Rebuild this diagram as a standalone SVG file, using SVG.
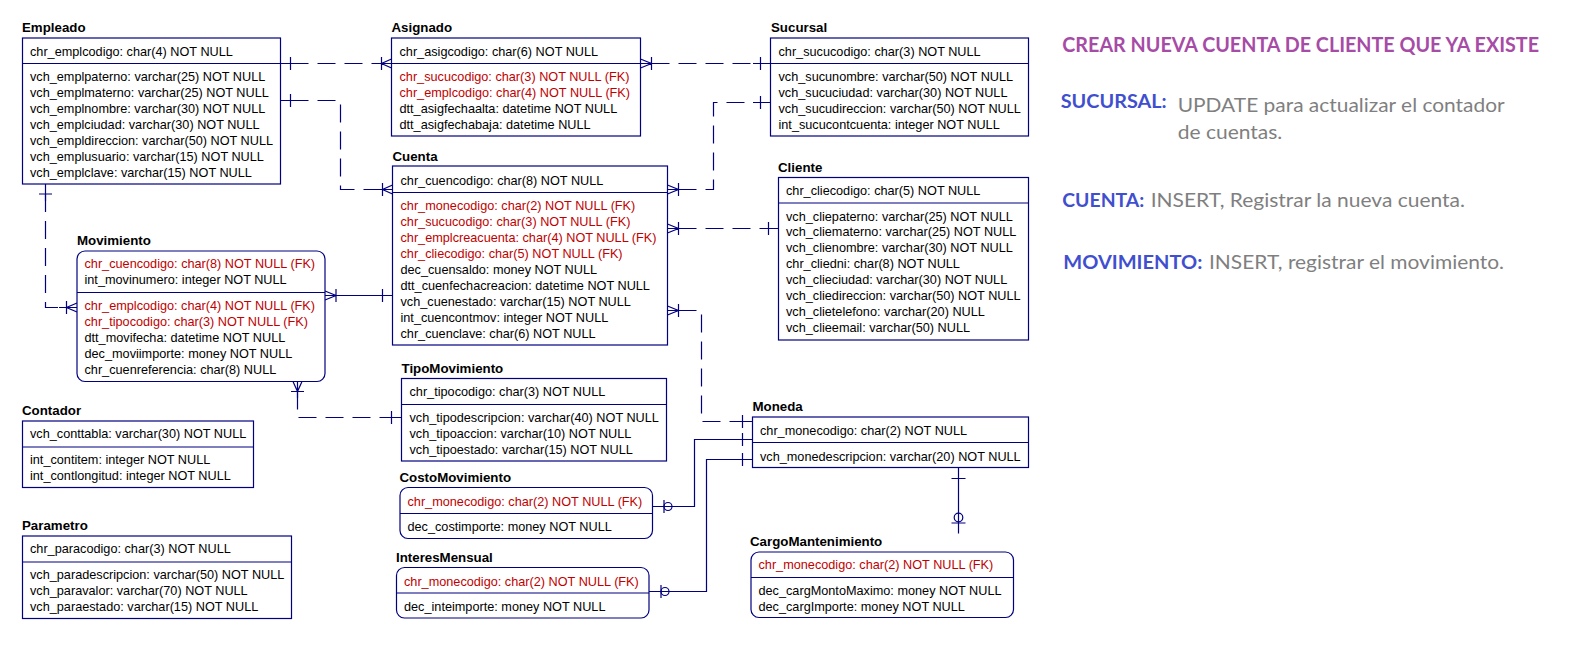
<svg xmlns="http://www.w3.org/2000/svg" width="1587" height="653" viewBox="0 0 1587 653">
<style>
.t{font-family:"Liberation Sans",Arial,sans-serif;font-size:12.7px;fill:#000}
.fk{fill:#c00000}
.ttl{font-family:"Liberation Sans",Arial,sans-serif;font-size:13.3px;font-weight:bold;fill:#000}
.box{fill:#fff;stroke:#000080;stroke-width:1.2}
.ln{fill:none;stroke:#000080;stroke-width:1.2}
.cn{fill:none;stroke:#000080;stroke-width:1.2}
.d{stroke-dasharray:18 9}
.note{font-family:Lato,"Open Sans",sans-serif}
.nh{font-weight:bold;fill:#a64ca6;font-size:21px}
.nb{font-weight:bold;fill:#3f4fcf;font-size:18px}
.ng{fill:#7f7f7f;font-size:19px}
</style>
<rect width="1587" height="653" fill="#fff"/>

<g id="connectors">
<!-- Empleado - Asignado -->
<path class="cn d" d="M290.5,63.5 H381.5"/>
<path class="cn" d="M280.5,63.5 H298 M374,63.5 H391.5 M290.5,57 V70 M381.5,57 V70 M391.5,59 L381.5,63.5 L391.5,68"/>
<!-- Empleado - Cuenta -->
<path class="cn d" d="M290.5,100.5 H340.5 V189.5 H382.5"/>
<path class="cn" d="M280.5,100.5 H298 M375,189.5 H392.5 M290.5,94 V107 M382.5,183 V196 M392.5,185 L382.5,189.5 L392.5,194"/>
<!-- Sucursal - Asignado -->
<path class="cn d" d="M651.5,63.5 H760.5"/>
<path class="cn" d="M640.5,63.5 H659 M753,63.5 H770.5 M651.5,57 V70 M640.5,59 L651.5,63.5 L640.5,68 M760.5,57 V70"/>
<!-- Sucursal - Cuenta -->
<path class="cn d" d="M678.5,189.5 H713.5 V102.5 H760.5"/>
<path class="cn" d="M667.5,189.5 H686 M753,102.5 H770.5 M678.5,183 V196 M667.5,185 L678.5,189.5 L667.5,194 M760.5,96 V109"/>
<!-- Cliente - Cuenta -->
<path class="cn d" d="M678.5,228.5 H768.5"/>
<path class="cn" d="M667.5,228.5 H686 M761,228.5 H778.5 M678.5,222 V235 M667.5,224 L678.5,228.5 L667.5,233 M768.5,222 V235"/>
<!-- Moneda - Cuenta -->
<path class="cn d" d="M678.5,310.5 H701.5 V421.5 H742.5"/>
<path class="cn" d="M667.5,310.5 H686 M735,421.5 H752.5 M678.5,304 V317 M667.5,306 L678.5,310.5 L667.5,315 M742.5,415 V428"/>
<!-- Cuenta - Movimiento -->
<path class="cn" d="M325,295.5 H392.5 M336,289 V302 M325,291 L336,295.5 L325,300 M382.5,289 V302"/>
<!-- Empleado - Movimiento -->
<path class="cn d" d="M45.5,194 V307.5 H66.5"/>
<path class="cn" d="M45.5,184 V201 M59,307.5 H77 M39,194 H52 M66.5,301 V314 M77,303 L66.5,307.5 L77,312"/>
<!-- TipoMovimiento - Movimiento -->
<path class="cn d" d="M297.5,391.5 V417.5 H391.5"/>
<path class="cn" d="M297.5,381.5 V398 M384,417.5 H401.5 M291,391.5 H304 M293,381.5 L297.5,391.5 L302,381.5 M391.5,411 V424"/>
<!-- Moneda - CostoMovimiento -->
<path class="cn" d="M652.5,506.5 H694.5 V439.5 H752.5 M664,500 V513 M742.5,433 V446"/>
<circle class="cn" cx="668" cy="506.5" r="4"/>
<!-- Moneda - InteresMensual -->
<path class="cn" d="M649,591.5 H706.5 V459.5 H752.5 M661,585 V598 M742.5,453 V466"/>
<circle class="cn" cx="665" cy="591.5" r="4"/>
<!-- Moneda - CargoMantenimiento -->
<path class="cn" d="M958.5,467.5 V533.5 M951.5,478.5 H965.5 M951.5,523 H965.5"/>
<circle class="cn" cx="958.5" cy="517.5" r="4.3"/>
</g>

<g id="Empleado">
<text class="ttl" x="22" y="31.5">Empleado</text>
<rect class="box" x="22.5" y="38" width="258" height="146"/>
<path class="ln" d="M22.5,63.5 H280.5"/>
<text class="t" x="30" y="55.5">chr_emplcodigo: char(4) NOT NULL</text>
<text class="t" x="30" y="81.2">vch_emplpaterno: varchar(25) NOT NULL</text>
<text class="t" x="30" y="97.1">vch_emplmaterno: varchar(25) NOT NULL</text>
<text class="t" x="30" y="113">vch_emplnombre: varchar(30) NOT NULL</text>
<text class="t" x="30" y="129">vch_emplciudad: varchar(30) NOT NULL</text>
<text class="t" x="30" y="144.9">vch_empldireccion: varchar(50) NOT NULL</text>
<text class="t" x="30" y="160.8">vch_emplusuario: varchar(15) NOT NULL</text>
<text class="t" x="30" y="176.8">vch_emplclave: varchar(15) NOT NULL</text>
</g>

<g id="Asignado">
<text class="ttl" x="391.5" y="31.5">Asignado</text>
<rect class="box" x="391.5" y="38" width="249" height="98"/>
<path class="ln" d="M391.5,63.5 H640.5"/>
<text class="t" x="399.5" y="55.5">chr_asigcodigo: char(6) NOT NULL</text>
<text class="t fk" x="399.5" y="81.2">chr_sucucodigo: char(3) NOT NULL (FK)</text>
<text class="t fk" x="399.5" y="97.1">chr_emplcodigo: char(4) NOT NULL (FK)</text>
<text class="t" x="399.5" y="113">dtt_asigfechaalta: datetime NOT NULL</text>
<text class="t" x="399.5" y="129">dtt_asigfechabaja: datetime NULL</text>
</g>

<g id="Sucursal">
<text class="ttl" x="771" y="31.5">Sucursal</text>
<rect class="box" x="770.5" y="38" width="258" height="98"/>
<path class="ln" d="M770.5,63.5 H1028.5"/>
<text class="t" x="778.5" y="55.5">chr_sucucodigo: char(3) NOT NULL</text>
<text class="t" x="778.5" y="81.2">vch_sucunombre: varchar(50) NOT NULL</text>
<text class="t" x="778.5" y="97.1">vch_sucuciudad: varchar(30) NOT NULL</text>
<text class="t" x="778.5" y="113">vch_sucudireccion: varchar(50) NOT NULL</text>
<text class="t" x="778.5" y="129">int_sucucontcuenta: integer NOT NULL</text>
</g>

<g id="Cuenta">
<text class="ttl" x="392.5" y="161">Cuenta</text>
<rect class="box" x="392.5" y="166" width="275" height="179"/>
<path class="ln" d="M392.5,192.5 H667.5"/>
<text class="t" x="400.5" y="184.5">chr_cuencodigo: char(8) NOT NULL</text>
<text class="t fk" x="400.5" y="210.2">chr_monecodigo: char(2) NOT NULL (FK)</text>
<text class="t fk" x="400.5" y="226.1">chr_sucucodigo: char(3) NOT NULL (FK)</text>
<text class="t fk" x="400.5" y="242">chr_emplcreacuenta: char(4) NOT NULL (FK)</text>
<text class="t fk" x="400.5" y="258">chr_cliecodigo: char(5) NOT NULL (FK)</text>
<text class="t" x="400.5" y="273.9">dec_cuensaldo: money NOT NULL</text>
<text class="t" x="400.5" y="289.8">dtt_cuenfechacreacion: datetime NOT NULL</text>
<text class="t" x="400.5" y="305.8">vch_cuenestado: varchar(15) NOT NULL</text>
<text class="t" x="400.5" y="321.7">int_cuencontmov: integer NOT NULL</text>
<text class="t" x="400.5" y="337.6">chr_cuenclave: char(6) NOT NULL</text>
</g>

<g id="Cliente">
<text class="ttl" x="778" y="172">Cliente</text>
<rect class="box" x="778.5" y="177.5" width="250" height="162.5"/>
<path class="ln" d="M778.5,203 H1028.5"/>
<text class="t" x="786" y="195.2">chr_cliecodigo: char(5) NOT NULL</text>
<text class="t" x="786" y="220.5">vch_cliepaterno: varchar(25) NOT NULL</text>
<text class="t" x="786" y="236.4">vch_cliematerno: varchar(25) NOT NULL</text>
<text class="t" x="786" y="252.4">vch_clienombre: varchar(30) NOT NULL</text>
<text class="t" x="786" y="268.3">chr_cliedni: char(8) NOT NULL</text>
<text class="t" x="786" y="284.2">vch_clieciudad: varchar(30) NOT NULL</text>
<text class="t" x="786" y="300.2">vch_cliedireccion: varchar(50) NOT NULL</text>
<text class="t" x="786" y="316.1">vch_clietelefono: varchar(20) NULL</text>
<text class="t" x="786" y="332">vch_clieemail: varchar(50) NULL</text>
</g>

<g id="Movimiento">
<text class="ttl" x="77" y="245.3">Movimiento</text>
<rect class="box" x="77" y="251" width="248" height="130.5" rx="8"/>
<path class="ln" d="M77,292.5 H325"/>
<text class="t fk" x="84.5" y="267.8">chr_cuencodigo: char(8) NOT NULL (FK)</text>
<text class="t" x="84.5" y="283.8">int_movinumero: integer NOT NULL</text>
<text class="t fk" x="84.5" y="310.2">chr_emplcodigo: char(4) NOT NULL (FK)</text>
<text class="t fk" x="84.5" y="326.1">chr_tipocodigo: char(3) NOT NULL (FK)</text>
<text class="t" x="84.5" y="341.8">dtt_movifecha: datetime NOT NULL</text>
<text class="t" x="84.5" y="357.7">dec_moviimporte: money NOT NULL</text>
<text class="t" x="84.5" y="373.6">chr_cuenreferencia: char(8) NULL</text>
</g>

<g id="Contador">
<text class="ttl" x="22" y="415">Contador</text>
<rect class="box" x="22.5" y="421" width="231" height="66.5"/>
<path class="ln" d="M22.5,447 H253.5"/>
<text class="t" x="30" y="437.8">vch_conttabla: varchar(30) NOT NULL</text>
<text class="t" x="30" y="463.8">int_contitem: integer NOT NULL</text>
<text class="t" x="30" y="480">int_contlongitud: integer NOT NULL</text>
</g>

<g id="Parametro">
<text class="ttl" x="22" y="530">Parametro</text>
<rect class="box" x="22.5" y="536" width="269" height="82.5"/>
<path class="ln" d="M22.5,562 H291.5"/>
<text class="t" x="30" y="552.8">chr_paracodigo: char(3) NOT NULL</text>
<text class="t" x="30" y="578.5">vch_paradescripcion: varchar(50) NOT NULL</text>
<text class="t" x="30" y="594.5">vch_paravalor: varchar(70) NOT NULL</text>
<text class="t" x="30" y="610.8">vch_paraestado: varchar(15) NOT NULL</text>
</g>

<g id="TipoMovimiento">
<text class="ttl" x="401.5" y="373">TipoMovimiento</text>
<rect class="box" x="401.5" y="378.5" width="265" height="82.5"/>
<path class="ln" d="M401.5,404.5 H666.5"/>
<text class="t" x="409.5" y="396.2">chr_tipocodigo: char(3) NOT NULL</text>
<text class="t" x="409.5" y="421.8">vch_tipodescripcion: varchar(40) NOT NULL</text>
<text class="t" x="409.5" y="437.8">vch_tipoaccion: varchar(10) NOT NULL</text>
<text class="t" x="409.5" y="453.8">vch_tipoestado: varchar(15) NOT NULL</text>
</g>

<g id="CostoMovimiento">
<text class="ttl" x="399.5" y="481.5">CostoMovimiento</text>
<rect class="box" x="400" y="487.5" width="252.5" height="51" rx="8"/>
<path class="ln" d="M400,513.5 H652.5"/>
<text class="t fk" x="407.5" y="505.5">chr_monecodigo: char(2) NOT NULL (FK)</text>
<text class="t" x="407.5" y="531">dec_costimporte: money NOT NULL</text>
</g>

<g id="InteresMensual">
<text class="ttl" x="396" y="562">InteresMensual</text>
<rect class="box" x="396.5" y="567.5" width="252.5" height="50.5" rx="8"/>
<path class="ln" d="M396.5,593 H649"/>
<text class="t fk" x="404" y="585.5">chr_monecodigo: char(2) NOT NULL (FK)</text>
<text class="t" x="404" y="611">dec_inteimporte: money NOT NULL</text>
</g>

<g id="Moneda">
<text class="ttl" x="752.5" y="410.7">Moneda</text>
<rect class="box" x="752.5" y="417" width="276" height="50.5"/>
<path class="ln" d="M752.5,442.5 H1028.5"/>
<text class="t" x="760" y="434.5">chr_monecodigo: char(2) NOT NULL</text>
<text class="t" x="760" y="460.5">vch_monedescripcion: varchar(20) NOT NULL</text>
</g>

<g id="CargoMantenimiento">
<text class="ttl" x="750" y="546">CargoMantenimiento</text>
<rect class="box" x="751" y="552" width="262.5" height="65.5" rx="8"/>
<path class="ln" d="M751,577.5 H1013.5"/>
<text class="t fk" x="758.5" y="568.8">chr_monecodigo: char(2) NOT NULL (FK)</text>
<text class="t" x="758.5" y="594.5">dec_cargMontoMaximo: money NOT NULL</text>
<text class="t" x="758.5" y="611">dec_cargImporte: money NOT NULL</text>
</g>

<g id="notas">
<text class="note nh" x="1062.3" y="52.3" textLength="476.7" lengthAdjust="spacingAndGlyphs">CREAR NUEVA CUENTA DE CLIENTE QUE YA EXISTE</text>
<text class="note nb" x="1060.7" y="108.3" textLength="106" lengthAdjust="spacingAndGlyphs">SUCURSAL:</text>
<text class="note ng" x="1177.7" y="112.3" textLength="327" lengthAdjust="spacingAndGlyphs">UPDATE para actualizar el contador</text>
<text class="note ng" x="1177.7" y="139" textLength="104.6" lengthAdjust="spacingAndGlyphs">de cuentas.</text>
<text class="note nb" x="1062.3" y="206.7" textLength="82" lengthAdjust="spacingAndGlyphs">CUENTA:</text>
<text class="note ng" x="1150.7" y="206.7" textLength="314.3" lengthAdjust="spacingAndGlyphs">INSERT, Registrar la nueva cuenta.</text>
<text class="note nb" x="1063.3" y="269.3" textLength="139" lengthAdjust="spacingAndGlyphs">MOVIMIENTO:</text>
<text class="note ng" x="1209" y="269.3" textLength="295" lengthAdjust="spacingAndGlyphs">INSERT, registrar el movimiento.</text>
</g>
</svg>
